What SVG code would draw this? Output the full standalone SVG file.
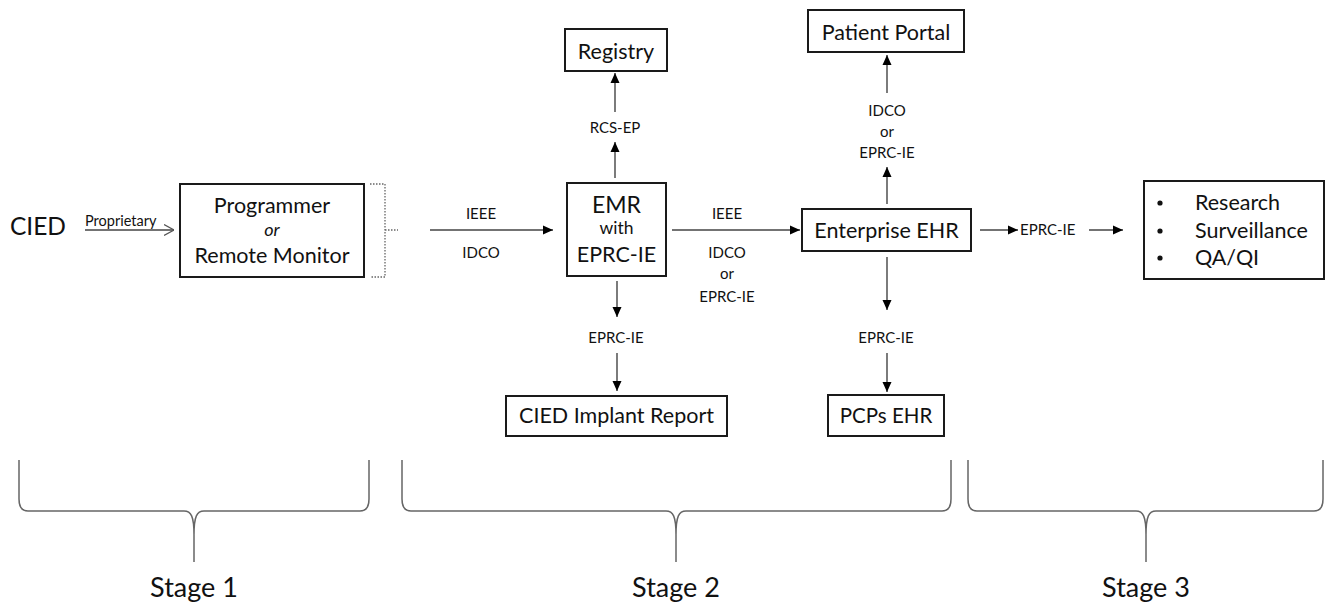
<svg xmlns="http://www.w3.org/2000/svg" width="1326" height="605" viewBox="0 0 1326 605">
<style>
text{font-family:Lato,"Open Sans","Liberation Sans",sans-serif;fill:#111}
.box{fill:#fff;stroke:#1a1a1a;stroke-width:2}
.big{font-size:21.5px;text-anchor:middle}
.lbl{font-size:15px;text-anchor:middle}
.conn{stroke:#444;stroke-width:1.4;fill:none}
.brace{stroke:#666;stroke-width:1.5;fill:none}
.stage{font-size:27px;text-anchor:middle}
</style>
<defs>
<marker id="ah" viewBox="0 0 10 10" refX="10" refY="5" markerWidth="10" markerHeight="10" markerUnits="userSpaceOnUse" orient="auto">
<path d="M0,0.5 L10,5 L0,9.5 z" fill="#000"/>
</marker>
<marker id="open" viewBox="0 0 10 12" refX="10" refY="6" markerWidth="10" markerHeight="12" markerUnits="userSpaceOnUse" orient="auto">
<path d="M0,0.5 L10,6 L0,11.5" fill="none" stroke="#555" stroke-width="1.2"/>
</marker>
</defs>
<rect width="1326" height="605" fill="#fff"/>

<g id="cied"><text x="38" y="235" style="font-size:24.5px;text-anchor:middle">CIED</text></g>

<g id="programmer">
<rect class="box" x="180" y="184" width="184" height="93"/>
<text class="big" x="272" y="213">Programmer</text>
<text x="272" y="236" style="font-size:18px;font-style:italic;text-anchor:middle">or</text>
<text class="big" x="272" y="263">Remote Monitor</text>
<path d="M370,184 H385 V277 H370 M385,230 H398" fill="none" stroke="#666" stroke-width="1.3" stroke-dasharray="1.5,1.5"/>
</g>

<g id="emr">
<rect class="box" x="567" y="183" width="99" height="93"/>
<text x="616.5" y="213" style="font-size:23px;text-anchor:middle">EMR</text>
<text x="616.5" y="234" style="font-size:17.5px;text-anchor:middle">with</text>
<text class="big" x="616.5" y="262">EPRC-IE</text>
</g>

<g id="registry">
<rect class="box" x="565" y="29" width="102" height="42"/>
<text class="big" x="616" y="58.5">Registry</text>
</g>

<g id="implant">
<rect class="box" x="506" y="396" width="221" height="40"/>
<text class="big" x="616.5" y="423">CIED Implant Report</text>
</g>

<g id="enterprise">
<rect class="box" x="802" y="209" width="169" height="42"/>
<text class="big" x="886.5" y="238">Enterprise EHR</text>
</g>

<g id="portal">
<rect class="box" x="808" y="10" width="156" height="42"/>
<text class="big" x="886" y="39.5">Patient Portal</text>
</g>

<g id="pcps">
<rect class="box" x="828" y="395" width="116" height="41"/>
<text x="886" y="423" style="font-size:20.5px;text-anchor:middle">PCPs EHR</text>
</g>

<g id="uses">
<rect class="box" x="1144" y="181" width="180" height="98"/>
<circle cx="1160" cy="203" r="2.6" fill="#111"/>
<circle cx="1160" cy="231" r="2.6" fill="#111"/>
<circle cx="1160" cy="258" r="2.6" fill="#111"/>
<text x="1195" y="210" style="font-size:21.5px">Research</text>
<text x="1195" y="238" style="font-size:21.5px">Surveillance</text>
<text x="1195" y="265" style="font-size:21.5px">QA/QI</text>
</g>

<g id="connectors">
<line class="conn" x1="85" y1="230" x2="174" y2="230" stroke="#777" marker-end="url(#open)"/>
<text x="85" y="226" style="font-size:14.5px">Proprietary</text>

<line class="conn" x1="430" y1="230" x2="553" y2="230" marker-end="url(#ah)"/>
<text class="lbl" x="481" y="219">IEEE</text>
<text class="lbl" x="481" y="258">IDCO</text>

<line class="conn" x1="672" y1="230" x2="800" y2="230" marker-end="url(#ah)"/>
<text class="lbl" x="727" y="219">IEEE</text>
<text class="lbl" x="727" y="258">IDCO</text>
<text class="lbl" x="727" y="279">or</text>
<text class="lbl" x="727" y="302">EPRC-IE</text>

<line class="conn" x1="615" y1="178" x2="615" y2="142" marker-end="url(#ah)"/>
<text class="lbl" x="615" y="133">RCS-EP</text>
<line class="conn" x1="615" y1="112" x2="615" y2="73" marker-end="url(#ah)"/>

<line class="conn" x1="617" y1="281" x2="617" y2="317" marker-end="url(#ah)"/>
<text class="lbl" x="616" y="343">EPRC-IE</text>
<line class="conn" x1="617" y1="353" x2="617" y2="391" marker-end="url(#ah)"/>

<line class="conn" x1="887" y1="204" x2="887" y2="167" marker-end="url(#ah)"/>
<text class="lbl" x="887" y="116">IDCO</text>
<text class="lbl" x="887" y="137">or</text>
<text class="lbl" x="887" y="158">EPRC-IE</text>
<line class="conn" x1="887" y1="93" x2="887" y2="55" marker-end="url(#ah)"/>

<line class="conn" x1="887" y1="257" x2="887" y2="310" marker-end="url(#ah)"/>
<text class="lbl" x="886" y="343">EPRC-IE</text>
<line class="conn" x1="887" y1="353" x2="887" y2="392" marker-end="url(#ah)"/>

<line class="conn" x1="980" y1="230" x2="1018" y2="230" marker-end="url(#ah)"/>
<text x="1020" y="235" style="font-size:15px">EPRC-IE</text>
<line class="conn" x1="1089" y1="230" x2="1123" y2="230" marker-end="url(#ah)"/>
</g>

<g id="stages">
<path class="brace" d="M19,460 L19,499 Q19,511 28,511 L184,511 C191,511 194,516 194,535 L194,562 L194,535 C194,516 197,511 204,511 L360,511 Q369,511 369,499 L369,460"/>
<text class="stage" x="194" y="597">Stage 1</text>
<path class="brace" d="M402,460 L402,499 Q402,511 411,511 L666,511 C673,511 676,516 676,535 L676,562 L676,535 C676,516 679,511 686,511 L942,511 Q951,511 951,499 L951,460"/>
<text class="stage" x="676" y="597">Stage 2</text>
<path class="brace" d="M968,460 L968,499 Q968,511 977,511 L1136,511 C1143,511 1146,516 1146,535 L1146,562 L1146,535 C1146,516 1149,511 1156,511 L1314,511 Q1323,511 1323,499 L1323,460"/>
<text class="stage" x="1146" y="597">Stage 3</text>
</g>
</svg>
